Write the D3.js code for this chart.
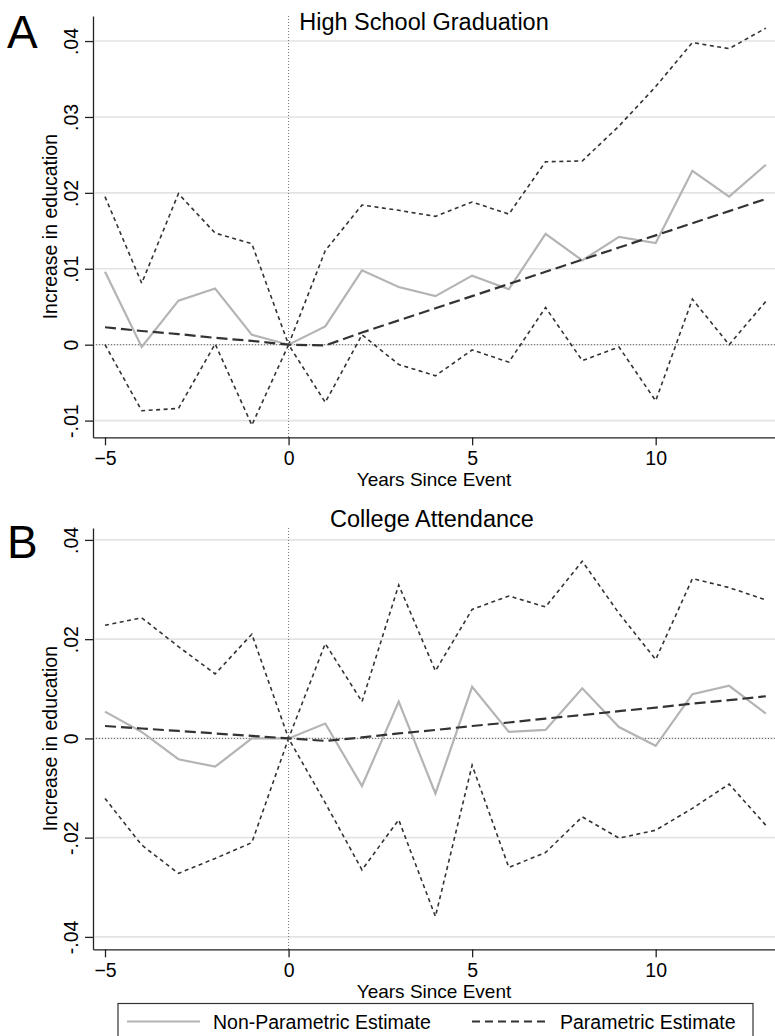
<!DOCTYPE html>
<html>
<head>
<meta charset="utf-8">
<script src="https://cdn.jsdelivr.net/npm/d3@7"></script>
<style>
  body { margin: 0; background: #fff; }
  svg { display: block; font-family: "Liberation Sans", Arial, Helvetica, sans-serif; }
</style>
</head>
<body>
<div id="chart"></div>
<script>
// years since event
var years = [-5, -4, -3, -2, -1, 0, 1, 2, 3, 4, 5, 6, 7, 8, 9, 10, 11, 12, 13];

// panel A: high school graduation
var hsNonParam = [0.0096, -0.0003, 0.0058, 0.0074, 0.0013, 0, 0.0024, 0.0098, 0.0076, 0.0064, 0.0091, 0.0073, 0.0146, 0.0111, 0.0142, 0.0134, 0.0229, 0.0195, 0.0237];
var hsParam    = [0.0023, 0.0018, 0.0014, 0.0009, 0.0005, 0, -0.0001, 0.0016, 0.0032, 0.0048, 0.0064, 0.0080, 0.0096, 0.0112, 0.0128, 0.0144, 0.0160, 0.0176, 0.0192];
var hsUpper    = [0.0195, 0.0081, 0.0199, 0.0147, 0.0133, 0, 0.0124, 0.0184, 0.0177, 0.0169, 0.0188, 0.0172, 0.0241, 0.0242, 0.0288, 0.0340, 0.0398, 0.0390, 0.0417];
var hsLower    = [0.0000, -0.0087, -0.0084, 0.0001, -0.0106, 0, -0.0076, 0.0013, -0.0026, -0.0041, -0.0007, -0.0023, 0.0049, -0.0021, -0.0003, -0.0074, 0.0060, 0.0000, 0.0057];

// panel B: college attendance
var colNonParam = [0.0054, 0.0013, -0.0042, -0.0057, 0.0000, 0, 0.0030, -0.0096, 0.0074, -0.0111, 0.0104, 0.0013, 0.0017, 0.0101, 0.0023, -0.0015, 0.0089, 0.0106, 0.0050];
var colParam    = [0.0025, 0.0020, 0.0015, 0.0010, 0.0005, 0, -0.0005, 0.0002, 0.0010, 0.0017, 0.0025, 0.0032, 0.0040, 0.0047, 0.0055, 0.0062, 0.0070, 0.0077, 0.0085];
var colUpper    = [0.0228, 0.0243, 0.0185, 0.0130, 0.0210, 0, 0.0191, 0.0074, 0.0309, 0.0136, 0.0260, 0.0287, 0.0265, 0.0357, 0.0252, 0.0159, 0.0322, 0.0304, 0.0279];
var colLower    = [-0.0121, -0.0215, -0.0272, -0.0242, -0.0210, 0, -0.0130, -0.0265, -0.0164, -0.0359, -0.0054, -0.0260, -0.0230, -0.0158, -0.0201, -0.0185, -0.0141, -0.0092, -0.0175];

// ticks
var xTicks = [-5, 0, 5, 10];
var hsYTicks = [-0.01, 0, 0.01, 0.02, 0.03, 0.04];
var hsYLabels = ['-.01', '0', '.01', '.02', '.03', '.04'];
var colYTicks = [-0.04, -0.02, 0, 0.02, 0.04];
var colYLabels = ['-.04', '-.02', '0', '.02', '.04'];

var svg = d3.select('#chart').append('svg')
    .attr('width', 775)
    .attr('height', 1036);

var dark = '#333333';

function drawPanel(p) {
  var x = d3.scaleLinear().domain([-5.327, 13.25]).range([93, 775]);
  var y = d3.scaleLinear().domain(p.yDomain).range([p.bottom, p.top]);
  var g = svg.append('g');

  // grid lines
  g.selectAll('.grid')
     .data(p.yTicks)
     .enter().append('line')
     .attr('x1', 95).attr('x2', 775)
     .attr('y1', function(d) { return y(d); })
     .attr('y2', function(d) { return y(d); })
     .attr('stroke', '#e3e3e3')
     .attr('stroke-width', 1.6);

  // reference lines at zero
  g.append('line')
     .attr('x1', 93).attr('x2', 775)
     .attr('y1', y(0)).attr('y2', y(0))
     .attr('stroke', '#666').attr('stroke-width', 1)
     .attr('stroke-dasharray', '1,2');
  g.append('line')
     .attr('x1', x(0)).attr('x2', x(0))
     .attr('y1', p.top).attr('y2', p.bottom)
     .attr('stroke', '#777').attr('stroke-width', 1)
     .attr('stroke-dasharray', '1,2');

  var line = function(vals) {
    return d3.line()
        .x(function(d, i) { return x(years[i]); })
        .y(function(d) { return y(d); })(vals);
  };

  // confidence bands
  [p.upper, p.lower].forEach(function(s) {
    g.append('path')
       .attr('d', line(s))
       .attr('fill', 'none')
       .attr('stroke', dark)
       .attr('stroke-width', 1.6)
       .attr('stroke-dasharray', '4,3.5');
  });

  // non-parametric estimate
  g.append('path')
     .attr('d', line(p.nonParam))
     .attr('fill', 'none')
     .attr('stroke', '#b4b4b4')
     .attr('stroke-width', 2.2);

  // parametric estimate
  g.append('path')
     .attr('d', line(p.param))
     .attr('fill', 'none')
     .attr('stroke', dark)
     .attr('stroke-width', 2.2)
     .attr('stroke-dasharray', '11,5');

  // y axis
  var yAxis = g.append('g')
     .attr('transform', 'translate(93,0)')
     .call(d3.axisLeft(y)
       .tickValues(p.yTicks)
       .tickFormat(function(d, i) { return p.yLabels[i]; })
       .tickSize(8)
       .tickSizeOuter(0));
  yAxis.select('.domain').attr('stroke', '#222').attr('stroke-width', 1.3);
  yAxis.selectAll('.tick line').attr('stroke', '#222').attr('stroke-width', 1.3);
  yAxis.selectAll('.tick text')
     .attr('x', null).attr('dy', null)
     .attr('transform', 'translate(-15,0) rotate(-90)')
     .attr('text-anchor', 'middle')
     .attr('fill', '#000')
     .style('font-size', '19.5px');

  // x axis
  var xAxis = g.append('g')
     .attr('transform', 'translate(0,' + p.bottom + ')')
     .call(d3.axisBottom(x)
       .tickValues(xTicks)
       .tickFormat(d3.format('d'))
       .tickSize(8)
       .tickSizeOuter(0)
       .tickPadding(6));
  xAxis.select('.domain').attr('stroke', '#222').attr('stroke-width', 1.3);
  xAxis.selectAll('.tick line').attr('stroke', '#222').attr('stroke-width', 1.3);
  xAxis.selectAll('.tick text')
     .attr('fill', '#000')
     .style('font-size', '19.5px');

  // axis titles
  g.append('text')
     .attr('x', 434)
     .attr('y', p.bottom + 49)
     .attr('text-anchor', 'middle')
     .style('font-size', '19px')
     .text('Years Since Event');

  g.append('text')
     .attr('transform', 'translate(57,' + ((p.top + p.bottom) / 2) + ') rotate(-90)')
     .attr('text-anchor', 'middle')
     .style('font-size', '19.5px')
     .text('Increase in education');

  // panel title and letter
  g.append('text')
     .attr('x', p.titleX)
     .attr('y', p.titleY)
     .attr('text-anchor', 'middle')
     .style('font-size', '23.5px')
     .text(p.title);

  g.append('text')
     .attr('x', 7)
     .attr('y', p.letterY)
     .style('font-size', '46px')
     .text(p.letter);
}

drawPanel({
  title: 'High School Graduation', titleX: 424, titleY: 30,
  letter: 'A', letterY: 48,
  top: 16, bottom: 437.3, yDomain: [-0.0122, 0.0433],
  yTicks: hsYTicks, yLabels: hsYLabels,
  nonParam: hsNonParam, param: hsParam, upper: hsUpper, lower: hsLower
});

drawPanel({
  title: 'College Attendance', titleX: 432, titleY: 527,
  letter: 'B', letterY: 558,
  top: 528, bottom: 949.3, yDomain: [-0.0425, 0.0424],
  yTicks: colYTicks, yLabels: colYLabels,
  nonParam: colNonParam, param: colParam, upper: colUpper, lower: colLower
});

// legend
var legend = svg.append('g');
legend.append('rect')
   .attr('x', 118).attr('y', 1003.5)
   .attr('width', 635).attr('height', 50)
   .attr('fill', '#fff')
   .attr('stroke', dark)
   .attr('stroke-width', 1.2);
legend.append('line')
   .attr('x1', 127).attr('x2', 200)
   .attr('y1', 1021.5).attr('y2', 1021.5)
   .attr('stroke', '#b4b4b4').attr('stroke-width', 2.2);
legend.append('text')
   .attr('x', 213).attr('y', 1029)
   .style('font-size', '19.5px')
   .text('Non-Parametric Estimate');
legend.append('line')
   .attr('x1', 472).attr('x2', 546)
   .attr('y1', 1021.5).attr('y2', 1021.5)
   .attr('stroke', dark).attr('stroke-width', 1.8)
   .attr('stroke-dasharray', '8,5');
legend.append('text')
   .attr('x', 560).attr('y', 1029)
   .style('font-size', '19.5px')
   .text('Parametric Estimate');
</script>
</body>
</html>
